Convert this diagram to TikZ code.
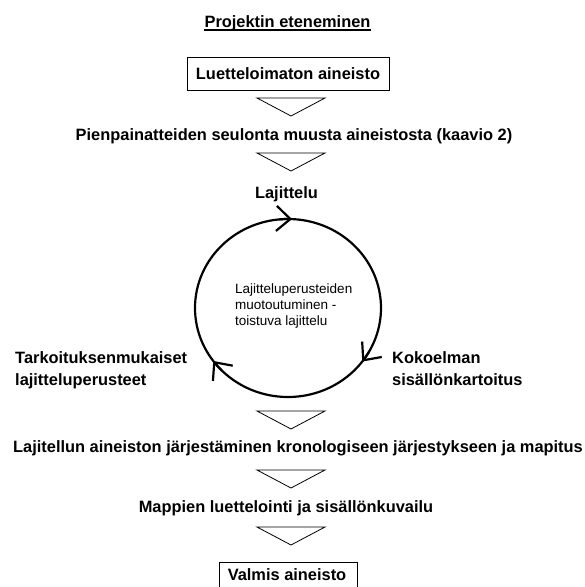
\documentclass[tikz,border=0pt]{standalone}
\usepackage{fontspec}
\setmainfont{Liberation Sans}
\usetikzlibrary{arrows.meta,calc}

\tikzset{
  lbl/.style={font=\fontsize{16.4}{22}\selectfont\bfseries, inner sep=0pt, anchor=base},
  note/.style={font=\fontsize{13.5}{16}\selectfont, inner sep=0pt, align=left},
  tri/.style={line width=0.8pt, line join=miter},
  ring/.style={line width=2.2pt},
  barb/.style={ring, -{Straight Barb[length=14pt,width=25pt]}},
}

\begin{document}
\begin{tikzpicture}[x=1pt, y=-1pt]
  \useasboundingbox (0,0) rectangle (585,587);
  \node (title) [lbl] at (287.5,27) {Projektin eteneminen};
  \draw[line width=1.3pt] ($(title.base west)+(0,3)$) -- ($(title.base east)+(0,3)$);
  \node (start) [lbl, draw, line width=0.8pt, anchor=center, minimum width=202pt, minimum height=33pt] at (288,73.5) {Luetteloimaton aineisto};
  \node (seul) [lbl] at (294,140) {Pienpainatteiden seulonta muusta aineistosta (kaavio 2)};
  \node (laj) [lbl] at (286.5,198) {Lajittelu};
  \node (tark) [lbl, align=left, anchor=north west] at (15,351) {Tarkoituksenmukaiset\\lajitteluperusteet};
  \node (kok) [lbl, align=left, anchor=north west] at (392,351) {Kokoelman\\sisällönkartoitus};
  \node (muot) [note, anchor=north west] at (235,284) {Lajitteluperusteiden\\muotoutuminen -\\toistuva lajittelu};
  \node (jarj) [lbl] at (298,452) {Lajitellun aineiston järjestäminen kronologiseen järjestykseen ja mapitus};
  \node (mapp) [lbl] at (286,512) {Mappien luettelointi ja sisällönkuvailu};
  \node (valmis) [lbl] at (287,580) {Valmis aineisto};
  \draw[line width=0.8pt] (219,587) |- (357,562) -- (357,587);
  % kierto
  \draw[ring] (288,308) ellipse [x radius=93, y radius=89];
  \draw[barb] (288,308) ++(-95.5:93 and 89) arc[start angle=-95.5, end angle=-87.5, x radius=93, y radius=89];
  \draw[barb] (288,308) ++(29:93 and 89) arc[start angle=29, end angle=37, x radius=93, y radius=89];
  \draw[barb] (288,308) ++(135.5:93 and 89) arc[start angle=135.5, end angle=143.5, x radius=93, y radius=89];
  \foreach \ty in {98,153,411,470,527}
    \draw[tri] (257,\ty) -- ++(68,0) -- ++(-34,18) -- cycle;
\end{tikzpicture}
\end{document}
